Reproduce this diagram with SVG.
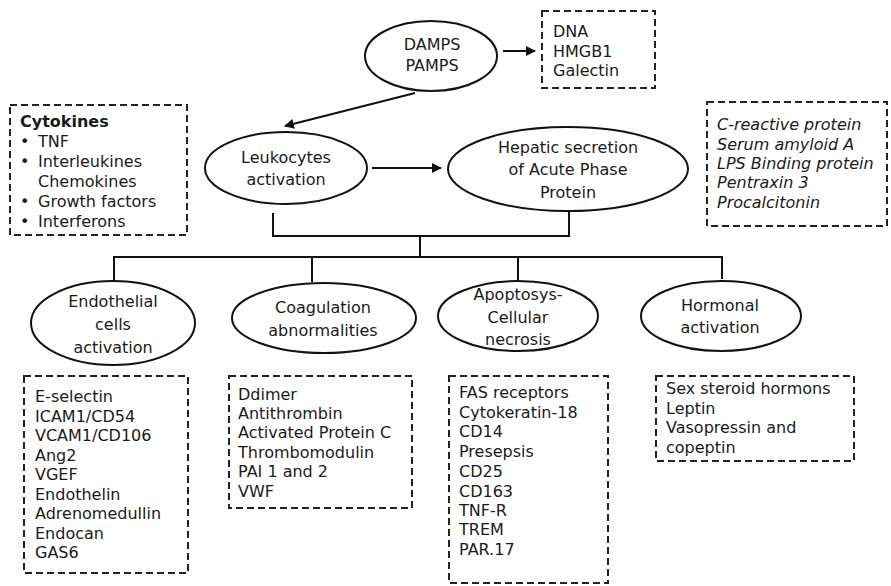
<svg xmlns="http://www.w3.org/2000/svg" width="891" height="586" viewBox="0 0 891 586">
  <style>
    text { font-family: "DejaVu Sans", Verdana, sans-serif; font-size: 16px; fill: #1a1a1a; }
    .c { text-anchor: middle; }
    .it { font-style: italic; }
    .b { font-weight: bold; }
    .node ellipse { fill: #fff; stroke: #111; stroke-width: 2; }
    .box rect { fill: none; stroke: #222; stroke-width: 2; stroke-dasharray: 7 4; }
    .conn line, .conn polyline { fill: none; stroke: #111; stroke-width: 2; }
  </style>
  <defs>
    <marker id="arrow" viewBox="0 0 10 10" refX="9" refY="5" markerWidth="5" markerHeight="5" orient="auto" markerUnits="strokeWidth">
      <path d="M0,0 L10,5 L0,10 z" fill="#111"/>
    </marker>
  </defs>
  <rect width="891" height="586" fill="#fff"/>

  <!-- connectors -->
  <g id="connectors" class="conn">
    <line x1="503" y1="51" x2="535" y2="51" marker-end="url(#arrow)"/>
    <line x1="415" y1="93" x2="285" y2="126" marker-end="url(#arrow)"/>
    <line x1="372" y1="168" x2="441" y2="168" marker-end="url(#arrow)"/>
    <polyline points="273,213 273,236 569,236 569,212"/>
    <line x1="420" y1="236" x2="420" y2="257"/>
    <polyline points="114,280 114,257 722,257 722,279"/>
    <line x1="312" y1="257" x2="312" y2="282"/>
    <line x1="518" y1="257" x2="518" y2="281"/>
  </g>

  <!-- nodes -->
  <g id="damps" class="node">
    <ellipse cx="431" cy="56" rx="66" ry="35"/>
    <text class="c" x="432" y="50">DAMPS</text>
    <text class="c" x="432" y="71">PAMPS</text>
  </g>
  <g id="danger-signals" class="box">
    <rect x="542" y="11" width="113" height="77"/>
    <text x="553" y="37">DNA</text>
    <text x="553" y="57">HMGB1</text>
    <text x="553" y="76">Galectin</text>
  </g>
  <g id="cytokines" class="box">
    <rect x="10" y="105" width="177" height="130"/>
    <text class="b" x="20" y="127">Cytokines</text>
    <text x="20" y="147">•</text><text x="38" y="147">TNF</text>
    <text x="20" y="167">•</text><text x="38" y="167">Interleukines</text>
    <text x="38" y="187">Chemokines</text>
    <text x="20" y="207">•</text><text x="38" y="207">Growth factors</text>
    <text x="20" y="227">•</text><text x="38" y="227">Interferons</text>
  </g>
  <g id="leukocytes" class="node">
    <ellipse cx="286" cy="168" rx="81" ry="36"/>
    <text class="c" x="286" y="163">Leukocytes</text>
    <text class="c" x="286" y="185">activation</text>
  </g>
  <g id="hepatic" class="node">
    <ellipse cx="568" cy="169" rx="120" ry="42"/>
    <text class="c" x="568" y="153">Hepatic secretion</text>
    <text class="c" x="568" y="175">of Acute Phase</text>
    <text class="c" x="568" y="198">Protein</text>
  </g>
  <g id="acute-phase-proteins" class="box">
    <rect x="707" y="102" width="180" height="124"/>
    <text class="it" x="717" y="130">C-reactive protein</text>
    <text class="it" x="717" y="150">Serum amyloid A</text>
    <text class="it" x="717" y="169">LPS Binding protein</text>
    <text class="it" x="717" y="188">Pentraxin 3</text>
    <text class="it" x="717" y="208">Procalcitonin</text>
  </g>

  <g id="endothelial" class="node">
    <ellipse cx="113" cy="323" rx="82" ry="42"/>
    <text class="c" x="113" y="307">Endothelial</text>
    <text class="c" x="113" y="330">cells</text>
    <text class="c" x="113" y="353">activation</text>
  </g>
  <g id="coagulation" class="node">
    <ellipse cx="324" cy="318" rx="92" ry="35"/>
    <text class="c" x="323" y="313">Coagulation</text>
    <text class="c" x="323" y="336">abnormalities</text>
  </g>
  <g id="apoptosis" class="node">
    <ellipse cx="518" cy="316" rx="80" ry="35"/>
    <text class="c" x="518" y="300">Apoptosys-</text>
    <text class="c" x="518" y="323">Cellular</text>
    <text class="c" x="518" y="345">necrosis</text>
  </g>
  <g id="hormonal" class="node">
    <ellipse cx="721" cy="316" rx="80" ry="35"/>
    <text class="c" x="720" y="311">Hormonal</text>
    <text class="c" x="720" y="333">activation</text>
  </g>

  <g id="endothelial-markers" class="box">
    <rect x="24" y="376" width="164" height="197"/>
    <text x="35" y="402">E-selectin</text>
    <text x="35" y="422">ICAM1/CD54</text>
    <text x="35" y="441">VCAM1/CD106</text>
    <text x="35" y="461">Ang2</text>
    <text x="35" y="480">VGEF</text>
    <text x="35" y="500">Endothelin</text>
    <text x="35" y="519">Adrenomedullin</text>
    <text x="35" y="539">Endocan</text>
    <text x="35" y="558">GAS6</text>
  </g>
  <g id="coagulation-markers" class="box">
    <rect x="229" y="376" width="183" height="132"/>
    <text x="238" y="400">Ddimer</text>
    <text x="238" y="419">Antithrombin</text>
    <text x="238" y="438">Activated Protein C</text>
    <text x="238" y="458">Thrombomodulin</text>
    <text x="238" y="477">PAI 1 and 2</text>
    <text x="238" y="497">VWF</text>
  </g>
  <g id="apoptosis-markers" class="box">
    <rect x="449" y="376" width="159" height="207"/>
    <text x="459" y="398">FAS receptors</text>
    <text x="459" y="418">Cytokeratin-18</text>
    <text x="459" y="437">CD14</text>
    <text x="459" y="457">Presepsis</text>
    <text x="459" y="477">CD25</text>
    <text x="459" y="497">CD163</text>
    <text x="459" y="516">TNF-R</text>
    <text x="459" y="535">TREM</text>
    <text x="459" y="555">PAR.17</text>
  </g>
  <g id="hormonal-markers" class="box">
    <rect x="656" y="376" width="198" height="85"/>
    <text x="666" y="394">Sex steroid hormons</text>
    <text x="666" y="414">Leptin</text>
    <text x="666" y="433">Vasopressin and</text>
    <text x="666" y="453">copeptin</text>
  </g>
</svg>
